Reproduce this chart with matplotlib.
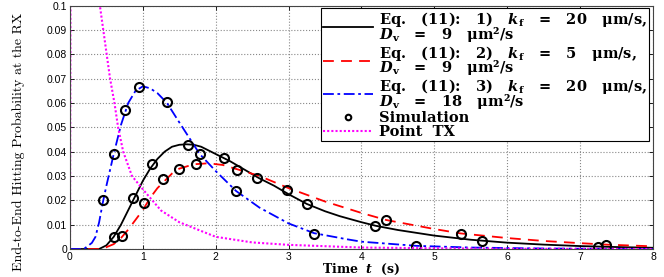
import matplotlib
matplotlib.use('Agg')
import matplotlib.pyplot as plt
from matplotlib.ticker import FuncFormatter, MultipleLocator

plt.rcParams['mathtext.fontset'] = 'dejavuserif'

# curves (time in s, probability)
t_eq1 = [0.0, 0.40, 0.50, 0.60, 0.70, 0.80, 0.90, 1.00, 1.10, 1.20, 1.30, 1.40, 1.50, 1.60,
         1.70, 1.80, 2.00, 2.20, 2.40, 2.60, 2.80, 3.00, 3.25, 3.50, 3.70, 4.00, 4.20, 4.50,
         5.00, 5.50, 6.00, 6.50, 7.00, 7.50, 8.00]
p_eq1 = [0.0, 0.0, 0.0015, 0.005, 0.010, 0.016, 0.022, 0.028, 0.033, 0.037, 0.040, 0.042,
         0.0428, 0.043, 0.0428, 0.042, 0.039, 0.036, 0.0325, 0.029, 0.026, 0.0225, 0.0185,
         0.0155, 0.0135, 0.011, 0.0095, 0.0078, 0.0055, 0.0038, 0.0026, 0.0018, 0.0012,
         0.0008, 0.0005]

t_eq2 = [0.0, 0.44, 0.60, 0.70, 0.80, 0.90, 1.00, 1.10, 1.20, 1.30, 1.40, 1.50, 1.70, 1.90,
         2.10, 2.30, 2.60, 3.00, 3.50, 4.00, 4.34, 5.00, 5.36, 6.00, 6.50, 7.00, 7.36, 8.00]
p_eq2 = [0.0, 0.0, 0.002, 0.0045, 0.008, 0.012, 0.016, 0.021, 0.025, 0.028, 0.031, 0.033,
         0.0348, 0.0352, 0.0345, 0.0327, 0.030, 0.025, 0.0195, 0.0148, 0.0119, 0.0082,
         0.0064, 0.0045, 0.0033, 0.0024, 0.0018, 0.0011]

t_eq3 = [0.0, 0.19, 0.30, 0.35, 0.40, 0.45, 0.50, 0.60, 0.70, 0.80, 0.90, 1.00, 1.10, 1.20,
         1.33, 1.50, 1.78, 2.00, 2.28, 2.60, 3.00, 3.35, 3.80, 4.00, 4.75, 5.50, 6.50, 8.00]
p_eq3 = [0.0, 0.0, 0.0025, 0.005, 0.011, 0.019, 0.026, 0.039, 0.051, 0.060, 0.065, 0.0668,
         0.066, 0.064, 0.060, 0.052, 0.039, 0.032, 0.0238, 0.017, 0.0105, 0.0065, 0.004,
         0.003, 0.0013, 0.0006, 0.0002, 0.0]

t_point = [0.0, 0.02, 0.20, 0.41, 0.55, 0.61, 0.66, 0.73, 0.85, 1.00, 1.25, 1.50, 2.00,
           2.50, 3.00, 4.00, 5.00, 6.00, 8.00]
p_point = [0.0, 0.30, 0.20, 0.100, 0.070, 0.060, 0.050, 0.040, 0.030, 0.0245, 0.0158,
           0.011, 0.005, 0.0027, 0.0017, 0.0006, 0.0003, 0.0001, 0.0]

# simulation markers
t_sim = [0.61, 0.87, 1.125, 1.62, 2.12, 2.57, 3.25, 4.18, 5.65, 7.25,
         0.72, 1.015, 1.28, 1.50, 1.73, 2.29, 2.98, 4.34, 5.36, 7.36,
         0.457, 0.60, 0.755, 0.95, 1.33, 1.78, 2.28, 3.35, 4.75]
p_sim = [0.0049, 0.0208, 0.0348, 0.0429, 0.0372, 0.0291, 0.0183, 0.0093, 0.0032, 0.0008,
         0.0055, 0.0188, 0.0289, 0.0330, 0.0349, 0.0326, 0.0242, 0.0119, 0.0062, 0.0018,
         0.0201, 0.0390, 0.0569, 0.0665, 0.0603, 0.0390, 0.0238, 0.0063, 0.0013]

kf = r'$\mathbfit{k}_\mathbf{f}$'
dv = r'$\mathbfit{D}_\mathbf{v}$'
gap = '   '
labels = [
    gap.join(['Eq.', '(11):', '1)', kf, '=', '20', 'μm/s,']) + '\n' + gap.join([dv, '=', '9', 'μm²/s']),
    gap.join(['Eq.', '(11):', '2)', kf, '=', '5', 'μm/s,']) + '\n' + gap.join([dv, '=', '9', 'μm²/s']),
    gap.join(['Eq.', '(11):', '3)', kf, '=', '20', 'μm/s,']) + '\n' + gap.join([dv, '=', '18', 'μm²/s']),
    'Simulation',
    'Point  TX',
]

fig = plt.figure(figsize=(6.64, 2.77), dpi=100)
ax = fig.add_axes([0.1054, 0.1011, 0.878, 0.879])

ax.plot(t_eq1, p_eq1, color='black', lw=1.3, label=labels[0])
ax.plot(t_eq2, p_eq2, color='#ff0000', lw=1.3, ls=(0, (6, 4)), label=labels[1])
ax.plot(t_eq3, p_eq3, color='#0000ff', lw=1.3, ls=(0, (6, 2, 1.5, 2)), label=labels[2])
ax.plot(t_sim, p_sim, ls='none', marker='o', ms=6.5, mfc='none', mec='black', mew=1.5,
        label=labels[3])
ax.plot(t_point, p_point, color='#ff00ff', lw=1.5, ls=(0, (1, 1)), label=labels[4])

ax.set_xlim(0, 8)
ax.set_ylim(0, 0.1)
ax.xaxis.set_major_locator(MultipleLocator(1))
ax.yaxis.set_major_locator(MultipleLocator(0.01))
ax.yaxis.set_major_formatter(FuncFormatter(lambda v, p: '%g' % round(v, 3)))
ax.tick_params(direction='in', top=True, right=True, length=3, width=0.6,
               labelsize=7.5, pad=2)
for lab in ax.get_xticklabels() + ax.get_yticklabels():
    lab.set_family('Liberation Sans')
ax.grid(True, ls=':', color='#888888', lw=0.8)
for s in ax.spines.values():
    s.set_linewidth(0.8)
    s.set_color('#444444')

ax.set_xlabel(r'Time  $\mathbfit{t}$  (s)', family='DejaVu Serif', weight='bold',
              fontsize=9)
ax.xaxis.set_label_coords(0.5, -0.054)
ax.set_ylabel('End-to-End Hitting Probability at the RX', family='cmr10',
              fontsize=10)
ax.yaxis.set_label_coords(-0.078, 0.44)

leg = ax.legend(loc='upper right', bbox_to_anchor=(0.993, 0.99), fancybox=False,
                edgecolor='black', framealpha=1, handlelength=3.4, handletextpad=0.4,
                borderpad=0.15, labelspacing=0.0, borderaxespad=0,
                prop={'family': 'DejaVu Serif', 'weight': 'bold', 'size': 10.5})
leg.get_frame().set_linewidth(0.8)
for txt in leg.get_texts():
    txt.set_linespacing(0.68)
leg.legend_handles[3].set_markersize(4)

fig.savefig('out.png', dpi=100)
